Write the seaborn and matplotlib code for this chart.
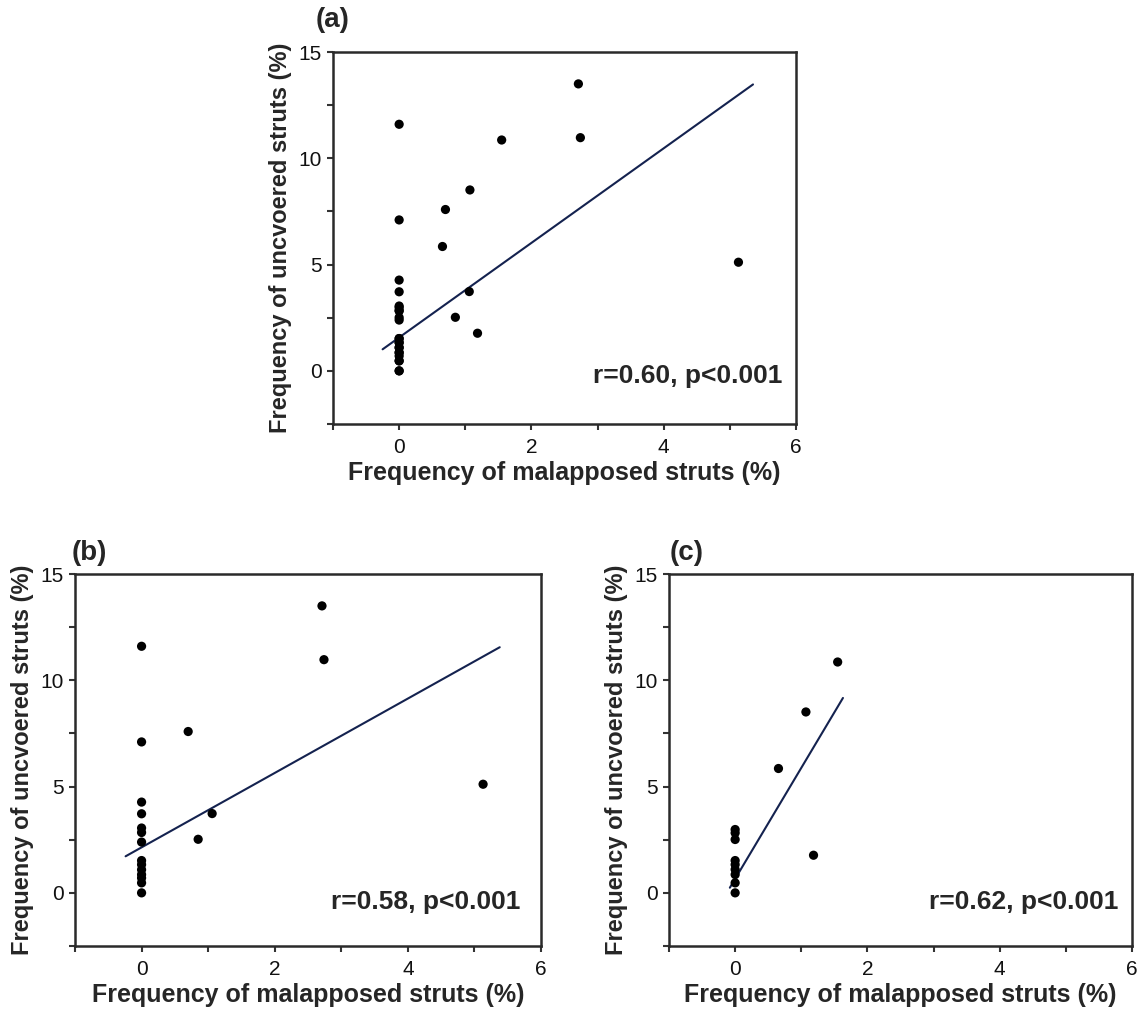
"""
Correlation between malapposed and uncovered strut frequencies, three panels.
"""
import pandas as pd
import matplotlib
matplotlib.use('Agg')
import matplotlib.pyplot as plt
from matplotlib.ticker import MultipleLocator
import seaborn as sns

# group B (panel b)
b_malapposed = [0, 0, 0, 0, 0, 0, 0, 0, 0, 0, 0, 0, 0, 0, 2.71, 2.74, 0.70, 1.06, 0.85, 5.13]
b_uncovered = [11.6, 7.1, 4.27, 3.72, 3.05, 2.84, 2.39, 1.52, 1.33, 1.09, 0.86, 0.70, 0.47, 0.0,
               13.5, 10.97, 7.59, 3.73, 2.52, 5.11]

# group C (panel c)
c_malapposed = [0, 0, 0, 0, 0, 0, 0, 0, 0, 1.55, 1.07, 0.655, 1.185]
c_uncovered = [2.98, 2.82, 2.51, 1.52, 1.33, 1.10, 0.86, 0.47, 0.0, 10.86, 8.51, 5.85, 1.77]

# regression lines: (intercept, slope, x start, x end)
fit_a = (1.57, 2.225, -0.25, 5.35)
fit_b = (2.14, 1.75, -0.24, 5.38)
fit_c = (0.66, 5.22, -0.08, 1.63)

stats_text = {'a': 'r=0.60, p<0.001', 'b': 'r=0.58, p<0.001', 'c': 'r=0.62, p<0.001'}

XLABEL = 'Frequency of malapposed struts (%)'
YLABEL = 'Frequency of uncvoered struts (%)'

sns.set_theme(style='ticks')
plt.rcParams['font.family'] = ['Liberation Sans', 'DejaVu Sans']

W, H = 1148, 1015
fig = plt.figure(figsize=(W / 100, H / 100), dpi=100)


def px_axes(left, top, right, bottom):
    return fig.add_axes([left / W, 1 - bottom / H, (right - left) / W, (bottom - top) / H])


def draw_panel(ax, xs, ys, fit, label, text_pos):
    df = pd.DataFrame({'x': xs, 'y': ys})
    sns.scatterplot(data=df, x='x', y='y', ax=ax, color='black', s=44,
                    edgecolor='none', zorder=3)
    b0, b1, x0, x1 = fit
    line = pd.DataFrame({'x': [x0, x1], 'y': [b0 + b1 * x0, b0 + b1 * x1]})
    sns.lineplot(data=line, x='x', y='y', ax=ax, color='#14224f', linewidth=1.5, zorder=2)

    ax.set_xlim(-1, 6)
    ax.set_ylim(-2.5, 15)
    ax.xaxis.set_major_locator(MultipleLocator(2))
    ax.xaxis.set_minor_locator(MultipleLocator(1))
    ax.yaxis.set_major_locator(MultipleLocator(5))
    ax.yaxis.set_minor_locator(MultipleLocator(2.5))
    ax.tick_params(which='both', direction='out', length=4, width=1.5,
                   color='#333333', labelsize=15, labelcolor='#111111')
    ax.tick_params(axis='x', pad=6)
    ax.tick_params(axis='y', pad=4)
    for sp in ax.spines.values():
        sp.set_visible(True)
        sp.set_linewidth(1.8)
        sp.set_color('#2a2a2a')
    ax.set_xlabel(XLABEL, fontsize=18, fontweight='bold', labelpad=3)
    ax.set_ylabel(YLABEL, fontsize=17, fontweight='bold', labelpad=5)
    ax.text(text_pos[0], text_pos[1], stats_text[label], transform=ax.transAxes, ha='right',
            va='center', fontsize=19, fontweight='bold')


ax_a = px_axes(333, 52, 796, 424)
ax_b = px_axes(75, 574, 541, 946)
ax_c = px_axes(669, 574, 1132, 946)

draw_panel(ax_a, b_malapposed + c_malapposed, b_uncovered + c_uncovered, fit_a, 'a', (0.97, 0.128))
draw_panel(ax_b, b_malapposed, b_uncovered, fit_b, 'b', (0.955, 0.119))
draw_panel(ax_c, c_malapposed, c_uncovered, fit_c, 'c', (0.97, 0.119))

for lbl, (px, py) in {'(a)': (316, 20), '(b)': (72, 553), '(c)': (670, 553)}.items():
    fig.text(px / W, 1 - py / H, lbl, fontsize=20, fontweight='bold', ha='left', va='center')

plt.savefig('out.png', dpi=100)
plt.close()
